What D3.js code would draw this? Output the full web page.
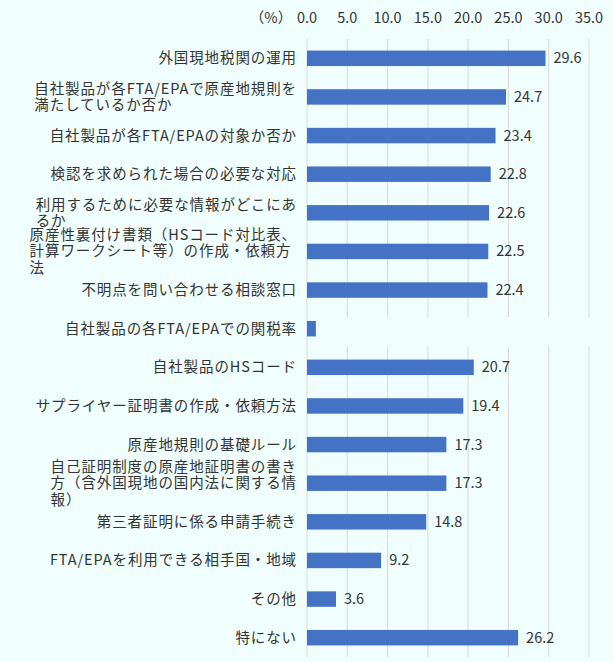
<!DOCTYPE html>
<html><head><meta charset="utf-8">
<script src="https://cdn.jsdelivr.net/npm/d3@7"></script>
<style>body{margin:0;background:#f0fefe}text{font-family:"Noto Sans CJK JP",sans-serif;fill:#333}</style>
</head><body><svg id="c" width="613" height="662"></svg>
<script>
const categories = [
  ["外国現地税関の運用"],
  ["自社製品が各FTA/EPAで原産地規則を","満たしているか否か"],
  ["自社製品が各FTA/EPAの対象か否か"],
  ["検認を求められた場合の必要な対応"],
  ["利用するために必要な情報がどこにあ","るか"],
  ["原産性裏付け書類（HSコード対比表、","計算ワークシート等）の作成・依頼方","法"],
  ["不明点を問い合わせる相談窓口"],
  ["自社製品の各FTA/EPAでの関税率"],
  ["自社製品のHSコード"],
  ["サプライヤー証明書の作成・依頼方法"],
  ["原産地規則の基礎ルール"],
  ["自己証明制度の原産地証明書の書き","方（含外国現地の国内法に関する情","報）"],
  ["第三者証明に係る申請手続き"],
  ["FTA/EPAを利用できる相手国・地域"],
  ["その他"],
  ["特にない"]
];
const values = [29.6, 24.7, 23.4, 22.8, 22.6, 22.5, 22.4, 1.1, 20.7, 19.4, 17.3, 17.3, 14.8, 9.2, 3.6, 26.2];
const showLabel = values.map((v, i) => i !== 7);
const ticks = [0, 5, 10, 15, 20, 25, 30, 35];

const svg = d3.select("#c");
const x = d3.scaleLinear().domain([0, 35]).range([307, 589]);
const y = d3.scaleBand().domain(d3.range(values.length)).range([39, 657]).paddingInner(0.6).paddingOuter(0.3);
const fs = 14.5, ls = 0.9;

svg.append("g").selectAll("line").data(ticks).join("line")
  .attr("x1", d => x(d)).attr("x2", d => x(d)).attr("y1", 39).attr("y2", 657)
  .attr("stroke", "#d9d9d9").attr("stroke-width", 1);
svg.append("rect").attr("x", x(0) + 1).attr("width", 300).attr("y", 317).attr("height", 30).attr("fill", "#f0fefe");

svg.append("g").selectAll("text").data(ticks).join("text")
  .attr("x", d => x(d)).attr("y", 23).attr("text-anchor", "middle").attr("font-size", fs)
  .text(d => d.toFixed(1));
svg.append("text").attr("x", 271).attr("y", 23).attr("text-anchor", "middle").attr("font-size", fs).text("（%）");

svg.append("g").selectAll("rect").data(values).join("rect")
  .attr("x", x(0)).attr("y", (d, i) => y(i)).attr("height", y.bandwidth())
  .attr("width", d => x(d) - x(0)).attr("fill", "#4472c4");

const labelled = values.map((v, i) => ({v, i})).filter(d => showLabel[d.i]);
svg.append("g").selectAll("text").data(labelled).join("text")
  .attr("x", d => x(d.v) + 8).attr("y", d => y(d.i) + y.bandwidth() / 2 + 5)
  .attr("font-size", fs).text(d => d.v.toFixed(1));

const lh = 16.5;
categories.forEach((lines, i) => {
  const cy = y(i) + y.bandwidth() / 2;
  const t = svg.append("text").attr("font-size", fs).attr("letter-spacing", ls);
  const y0 = cy - (lines.length - 1) * lh / 2 + 5;
  lines.forEach((l, j) => t.append("tspan").attr("y", y0 + j * lh).text(l));
  const w = d3.max(t.selectAll("tspan").nodes(), n => n.getComputedTextLength());
  t.selectAll("tspan").attr("x", 297 - w);
});
</script></body></html>
